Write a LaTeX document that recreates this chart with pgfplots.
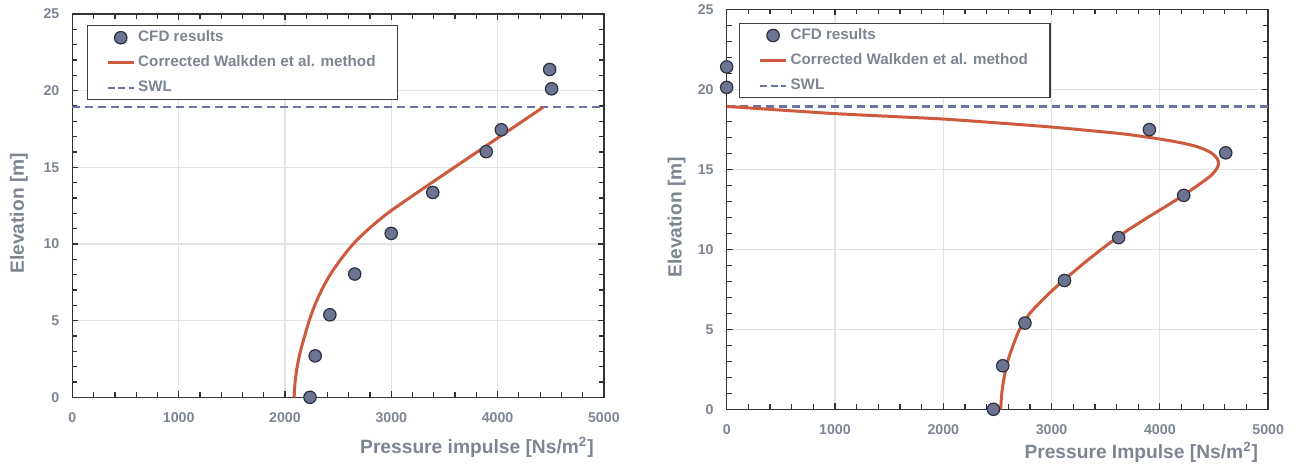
\documentclass[border=0pt]{standalone}
\usepackage{pgfplots}
\pgfplotsset{compat=1.18}
\usepackage{fontspec}
\setmainfont{Liberation Sans}
\definecolor{txt}{HTML}{7D8593}
\definecolor{cfd}{HTML}{6C7492}
\definecolor{cfdedge}{HTML}{2E3140}
\definecolor{walk}{HTML}{CD5A3C}
\definecolor{swl}{HTML}{6A74A0}
\definecolor{gridc}{HTML}{E3E3E3}
\pgfplotsset{
 myaxis/.style={
  scale only axis,
  xmin=0,xmax=5000,ymin=0,ymax=25,
  xtick={0,1000,...,5000}, ytick={0,5,...,25},
  minor x tick num=4, minor y tick num=4,
  tick align=inside,
  major tick length=3pt, minor tick length=2.5pt,
  grid=major, major grid style={gridc, line width=0.6pt},
  axis line style={black!80, line width=0.7pt},
  tick style={black!80, line width=0.6pt},
  ticklabel style={font=\bfseries\fontsize{7.1}{8.5}\selectfont, text=txt},
  /pgf/number format/assume math mode=true,
  /pgf/number format/set thousands separator={},
  xticklabel style={yshift=-4pt},
  yticklabel style={xshift=-3pt},
  label style={font=\bfseries\fontsize{9.6}{11}\selectfont, text=txt},
  ylabel style={at={(rel axis cs:0,0.48)}, anchor=center},
  xlabel style={at={(rel axis cs:1,0)}, anchor=east},
  clip=false,
  legend cell align=left,
  legend image code/.code={\draw[mark repeat=2,mark phase=2,##1] plot coordinates {(0pt,0pt)(6.5pt,0pt)(13pt,0pt)};},
  legend style={anchor=north west, draw=black!75, line width=0.6pt, fill=white,
    font=\bfseries\fontsize{7.6}{9}\selectfont, text=txt,
    inner xsep=9.5pt, inner ysep=1pt, row sep=2.6pt,
    nodes={inner sep=1.5pt}},
 },
 cfdstyle/.style={only marks, mark=*, mark size=3.1pt, mark options={fill=cfd, draw=cfdedge, line width=0.6pt}},
 walkstyle/.style={walk, line width=1.5pt, smooth, no marks},
 swlstyle/.style={swl, line width=1.2pt, dash pattern=on 4pt off 2.5pt, no marks},
}
\begin{document}
\begin{tikzpicture}
\path[use as bounding box] (0,0) rectangle (649pt,233pt);
% ---------- left ----------
\begin{axis}[myaxis, at={(36.2pt,34.35pt)}, anchor=south west,
  width=265.75pt, height=191.65pt,
  xlabel={Pressure impulse [Ns/m\textsuperscript{2}]},
  ylabel={Elevation [m]},
  xlabel style={yshift=-25pt, xshift=-1.5pt},
  ylabel style={yshift=26.7pt},
  legend style={at={(rel axis cs:0.0268,0.971)}}]
\addplot[swlstyle, forget plot] coordinates {(0,18.93) (5000,18.93)};
\addplot[walkstyle, forget plot] coordinates {
(2086,0) (2095,1) (2115,2) (2145,3) (2185,4) (2228,5) (2280,6) (2345,7)
(2425,8) (2525,9) (2642,10) (2790,11) (2965,12) (3170,13) (3381,14)
(3594,15) (3807,16) (4020,17) (4233,18) (4427,18.91)};
\addplot[cfdstyle, forget plot] coordinates {
(2235,0) (2284,2.7) (2422,5.38) (2656,8.04) (2999,10.69) (3390,13.36)
(3893,16.02) (4035,17.45) (4508,20.12) (4490,21.38)};
\addlegendimage{cfdstyle}
\addlegendentry{CFD results}
\addlegendimage{walk, line width=1.5pt}
\addlegendentry{Corrected Walkden et al. method}
\addlegendimage{swl, line width=1.2pt, dash pattern=on 3.5pt off 1.8pt}
\addlegendentry{SWL}
\end{axis}
% ---------- right ----------
\begin{axis}[myaxis, at={(363.35pt,28.35pt)}, anchor=south west,
  width=270.75pt, height=200pt,
  xlabel={Pressure Impulse [Ns/m\textsuperscript{2}]},
  ylabel={Elevation [m]},
  xlabel style={yshift=-21.5pt, xshift=-1.5pt},
  ylabel style={yshift=25pt},
  legend style={at={(rel axis cs:0.0227,0.966)}}]
\addplot[swlstyle, forget plot] coordinates {(0,18.93) (5000,18.93)};
\addplot[walkstyle, forget plot] coordinates {
(2530,0) (2540,1) (2562,2) (2595,3) (2645,4) (2705,5) (2800,6) (2940,7)
(3100,8) (3275,9) (3460,10) (3660,11) (3890,12) (4130,13) (4330,13.9)
(4470,14.6) (4530,15.1) (4542,15.4) (4525,15.7) (4470,16.05) (4350,16.4)
(4200,16.65) (3990,16.9) (3677,17.2) (3350,17.42) (3000,17.64) (2500,17.9)
(2000,18.14) (1500,18.31) (1000,18.48) (500,18.7) (0,18.93)};
\addplot[cfdstyle, forget plot] coordinates {
(2463,0) (2549,2.72) (2754,5.39) (3119,8.05) (3619,10.73) (4220,13.37)
(4608,16.03) (3903,17.48) (0,20.12) (0,21.40)};
\addlegendimage{cfdstyle}
\addlegendentry{CFD results}
\addlegendimage{walk, line width=1.5pt}
\addlegendentry{Corrected Walkden et al. method}
\addlegendimage{swl, line width=1.2pt, dash pattern=on 3.5pt off 1.8pt}
\addlegendentry{SWL}
\end{axis}
\end{tikzpicture}
\end{document}
